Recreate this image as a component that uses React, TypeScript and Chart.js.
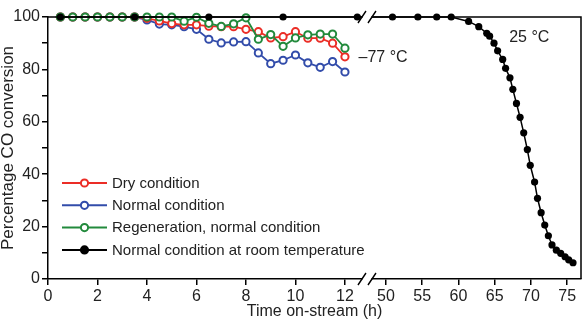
import React, { useEffect, useRef } from 'react';
import { Chart, registerables } from 'chart.js';

Chart.register(...registerables);

// ---- data ----
const coldTimes = [0.5, 1, 1.5, 2, 2.5, 3, 3.5, 4, 4.5, 5, 5.5, 6, 6.5, 7, 7.5, 8, 8.5, 9, 9.5, 10, 10.5, 11, 11.5, 12];
const dryValues = [100, 100, 100, 100, 100, 100, 100, 99.5, 98.5, 97.5, 97, 97, 96.5, 96.3, 96.3, 95.3, 94.4, 92, 92.5, 94.4, 91.9, 91.9, 90, 84.8];
const normalValues = [100, 100, 100, 100, 100, 100, 100, 98.9, 97.3, 97, 96.3, 95.3, 91.5, 90.1, 90.5, 90.6, 86.3, 82.2, 83.5, 85.5, 82.5, 80.8, 83, 79];
const regenValues = [100, 100, 100, 100, 100, 100, 100, 100, 100, 100, 98.4, 99.9, 97.6, 96.4, 97.4, 99.7, 91.5, 93.3, 88.8, 92, 93.2, 93.5, 93.5, 88.1];
const roomTimes = [0.5, 3.5, 6.5, 9.5, 12.5, 50.9, 54.4, 57.0, 59.0, 61.4, 62.8, 63.9, 64.3, 64.9, 65.4, 66.1, 66.5, 67.1, 67.5, 68.0, 68.5, 69.0, 69.5, 69.9, 70.5, 70.9, 71.4, 71.9, 72.4, 72.9, 73.5, 74.1, 74.7, 75.2, 75.8];
const roomValues = [100, 100, 100, 100, 100, 100, 100, 100, 100, 98.3, 96.3, 93.8, 92.7, 90, 87.1, 83.8, 80.4, 76.8, 72.4, 67, 61.7, 55.8, 49.4, 43.4, 37, 30.8, 25.3, 20.6, 16.5, 13, 11, 9.8, 8.5, 7.3, 6.2];
const xTickValues = [0, 2, 4, 6, 8, 10, 12, 50, 55, 60, 65, 70, 75];
const seriesLabels = ['Dry condition', 'Normal condition', 'Regeneration, normal condition', 'Normal condition at room temperature'];
const annotations = [
  { text: '\u201377 \u00B0C', t: 12.55, v: 84.5 },
  { text: '25 \u00B0C', t: 67.0, v: 92.0 },
];

// ---- broken time axis: 0–12.9 h at full scale, 47.5–77 h compressed ----
const BREAK_AT = 12.89;
const RIGHT_ORIGIN = 13.657;
const RIGHT_FACTOR = 0.293;
const X_MAX_HOURS = 76.9;
const fx = (t: number) => (t <= 30 ? t : RIGHT_ORIGIN + (t - 50) * RIGHT_FACTOR);

const RED = 'rgb(235,45,38)';
const BLUE = 'rgb(50,76,170)';
const GREEN = 'rgb(34,138,60)';
const BLACK = '#000';
const FONT = "'Liberation Sans', Arial, Helvetica, sans-serif";

const pts = (ts: number[], vs: number[]) => ts.map((t, i) => ({ x: fx(t), y: vs[i] }));

const framePlugin = {
  id: 'frameAndBreak',
  afterDraw(chart: any) {
    const { ctx, chartArea } = chart;
    const { left, right, top, bottom } = chartArea;
    ctx.save();
    ctx.strokeStyle = BLACK;
    ctx.lineWidth = 1.5;
    ctx.beginPath();
    ctx.moveTo(left, top);
    ctx.lineTo(right, top);
    ctx.lineTo(right, bottom);
    ctx.stroke();

    // axis break
    const bx = chart.scales.x.getPixelForValue(BREAK_AT);
    [top, bottom].forEach((y) => {
      ctx.fillStyle = '#fff';
      ctx.fillRect(bx - 4.5, y - 2.5, 9, 5);
      ctx.beginPath();
      ctx.lineWidth = 1.4;
      ctx.moveTo(bx - 9, y + 6);
      ctx.lineTo(bx - 1, y - 6);
      ctx.moveTo(bx + 1, y + 6);
      ctx.lineTo(bx + 9, y - 6);
      ctx.stroke();
    });

    // temperature annotations
    ctx.fillStyle = '#222';
    ctx.font = `16px ${FONT}`;
    ctx.textBaseline = 'middle';
    ctx.textAlign = 'left';
    annotations.forEach((a) => {
      ctx.fillText(a.text, chart.scales.x.getPixelForValue(fx(a.t)), chart.scales.y.getPixelForValue(a.v));
    });

    // legend inside plot
    const order = [0, 1, 2, 3];
    const x0 = left + 14;
    const y0 = top + 166;
    ctx.font = `15px ${FONT}`;
    order.forEach((di, row) => {
      const ds = chart.data.datasets[di];
      const y = y0 + row * 22.3;
      ctx.strokeStyle = ds.borderColor;
      ctx.lineWidth = 2;
      ctx.beginPath();
      ctx.moveTo(x0, y);
      ctx.lineTo(x0 + 45, y);
      ctx.stroke();
      ctx.beginPath();
      ctx.arc(x0 + 22.5, y, ds.pointRadius, 0, Math.PI * 2);
      ctx.fillStyle = ds.pointBackgroundColor;
      ctx.fill();
      ctx.lineWidth = ds.pointBorderWidth;
      ctx.strokeStyle = ds.pointBorderColor;
      ctx.stroke();
      ctx.fillStyle = '#222';
      ctx.fillText(seriesLabels[di], x0 + 50, y + 0.5);
    });
    ctx.restore();
  },
};

export default function App() {
  const ref = useRef<HTMLCanvasElement | null>(null);
  useEffect(() => {
    document.body.style.margin = '0';
    if (!ref.current) return;
    const open = (color: string, data: number[], order: number) => ({
      label: '',
      data: pts(coldTimes, data),
      borderColor: color,
      backgroundColor: color,
      borderWidth: 1.8,
      pointRadius: 3.6,
      pointBorderWidth: 2,
      pointBorderColor: color,
      pointBackgroundColor: '#fff',
      clip: false as any,
      order,
    });
    const chart = new Chart(ref.current, {
      type: 'line',
      data: {
        datasets: [
          { ...open(RED, dryValues, 2), label: seriesLabels[0] },
          { ...open(BLUE, normalValues, 3), label: seriesLabels[1] },
          { ...open(GREEN, regenValues, 1), label: seriesLabels[2] },
          {
            label: seriesLabels[3],
            data: pts(roomTimes, roomValues),
            borderColor: BLACK,
            backgroundColor: BLACK,
            borderWidth: 1.5,
            pointRadius: 3.6,
            pointBorderWidth: 0,
            pointBorderColor: BLACK,
            pointBackgroundColor: BLACK,
            clip: false as any,
            order: 0,
          },
        ],
      },
      options: {
        responsive: false,
        animation: false,
        layout: { padding: { left: 0, right: 6, top: 17, bottom: 0 } },
        plugins: { legend: { display: false }, tooltip: { enabled: false } },
        scales: {
          x: {
            type: 'linear',
            min: 0,
            max: fx(X_MAX_HOURS),
            afterFit: (s: any) => { s.height = 46; },
            afterBuildTicks: (s: any) => { s.ticks = xTickValues.map((v) => ({ value: fx(v) })); },
            border: { display: true, color: BLACK, width: 1.5 },
            grid: { display: true, drawOnChartArea: false, drawTicks: true, tickLength: 6, color: BLACK, lineWidth: 1.5 },
            ticks: {
              autoSkip: false,
              maxRotation: 0,
              padding: 2,
              color: '#222',
              font: { family: FONT, size: 16 },
              callback: (_v: any, i: number) => String(xTickValues[i]),
            },
            title: {
              display: true,
              text: 'Time on-stream (h)',
              color: '#222',
              font: { family: FONT, size: 16 },
              padding: { top: 0, bottom: 4 },
            },
          },
          y: {
            type: 'linear',
            min: 0,
            max: 100,
            afterFit: (s: any) => { s.width = 48; },
            border: { display: true, color: BLACK, width: 1.5 },
            grid: { display: true, drawOnChartArea: false, drawTicks: true, tickLength: 6, color: BLACK, lineWidth: 1.5 },
            ticks: {
              stepSize: 10,
              padding: 2,
              color: '#222',
              font: { family: FONT, size: 16 },
              callback: (v: any) => (Number(v) % 20 === 0 ? String(v) : ''),
            },
            title: {
              display: true,
              text: 'Percentage CO conversion',
              color: '#222',
              font: { family: FONT, size: 17, lineHeight: 1 },
              padding: { top: 0, bottom: 0 },
            },
          },
        },
      },
      plugins: [framePlugin],
    });
    return () => chart.destroy();
  }, []);
  return (
    <div style={{ width: 587, height: 325 }}>
      <canvas ref={ref} width={587} height={325} style={{ display: 'block' }} />
    </div>
  );
}
